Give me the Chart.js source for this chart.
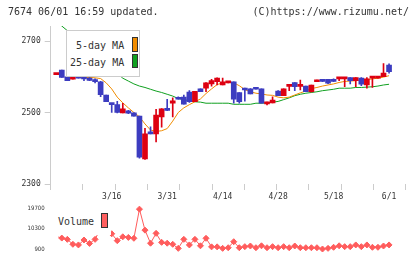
<!DOCTYPE html>
<html><head><meta charset="utf-8">
<script src="https://cdn.jsdelivr.net/npm/chart.js@4/dist/chart.umd.min.js"></script>
<style>
html,body{margin:0;padding:0;background:#fff;}
#wrap{position:relative;width:420px;height:259px;overflow:hidden;font-family:'DejaVu Sans Mono',monospace;color:#333;}
canvas{position:absolute;left:0;top:0;}
.t{position:absolute;font-size:10px;line-height:12px;white-space:pre;}
.box{position:absolute;background:#fff;}
.sw{position:absolute;border:1px solid #333;}
</style></head><body>
<div id="wrap">
<canvas id="main" width="420" height="259" style="width:420px;height:259px"></canvas>
<canvas id="vol" width="420" height="259" style="width:420px;height:259px"></canvas>
<div class="t" style="left:8px;top:6px">7674 06/01 16:59 updated.</div>
<div class="t" style="right:11px;top:6px">(C)https://www.rizumu.net/</div>
<div class="box" style="left:66px;top:30px;width:72px;height:45px;border:1px solid #ccc;"></div>
<div class="t" style="left:76px;top:40px">5-day MA</div>
<div class="sw" style="left:132px;top:37px;width:4px;height:13px;background:#f08c00;"></div>
<div class="t" style="left:70px;top:57px">25-day MA</div>
<div class="sw" style="left:132px;top:54px;width:4px;height:12px;background:#10a020;"></div>
<div class="box" style="left:54px;top:210px;width:57px;height:25px;"></div>
<div class="t" style="left:58px;top:216px">Volume</div>
<div class="sw" style="left:101px;top:213px;width:5px;height:13px;background:#ff6060;"></div>
</div>
<script>
const days = ['3/2','3/3','3/4','3/5','3/6','3/9','3/10','3/11','3/12','3/13',
'3/16','3/17','3/18','3/19','3/23','3/24','3/25','3/26','3/27','3/30',
'3/31','4/1','4/2','4/3','4/6','4/7','4/8','4/9','4/10','4/13',
'4/14','4/15','4/16','4/17','4/20','4/21','4/22','4/23','4/24','4/27',
'4/28','4/30','5/1','5/7','5/8','5/11','5/12','5/13','5/14','5/15',
'5/18','5/19','5/20','5/21','5/22','5/25','5/26','5/27','5/28','5/29','6/1'];
const tickLabels = ['3/16','3/31','4/14','4/28','5/18','6/1'];
const yTicks = [2300, 2500, 2700];
const volTicks = [900, 10300, 19700];

const opens = [2606,2619,2600,2593,2603,2601,2596,2592,2586,2549,
2523,2522,2499,2505,2499,2490,2370,2441,2440,2488,
2510,2526,2541,2543,2557,2530,2566,2568,2580,2586,
2577,2583,2586,2556,2568,2566,2566,2566,2524,2527,
2560,2547,2573,2584,2573,2574,2558,2586,2593,2593,
2591,2594,2594,2598,2589,2596,2577,2596,2596,2600,2633];
const highs = [2607,2619,2600,2610,2612,2607,2598,2594,2587,2549,
2523,2531,2526,2506,2499,2490,2456,2460,2509,2511,
2537,2541,2544,2549,2561,2559,2566,2584,2593,2597,
2596,2586,2586,2556,2568,2567,2567,2566,2529,2544,
2561,2566,2576,2584,2591,2574,2577,2591,2593,2593,
2594,2598,2598,2598,2598,2598,2598,2598,2598,2637,2636];
const lows = [2606,2598,2589,2593,2596,2589,2589,2583,2544,2530,
2500,2499,2499,2497,2490,2372,2369,2440,2418,2459,
2505,2488,2537,2523,2528,2530,2558,2558,2574,2577,
2577,2583,2526,2526,2532,2552,2565,2526,2521,2527,
2547,2547,2561,2561,2563,2558,2557,2586,2586,2581,
2586,2589,2572,2580,2572,2575,2568,2570,2596,2600,2610];
const closes = [2607,2598,2589,2610,2596,2594,2590,2586,2550,2530,
2522,2500,2510,2498,2490,2375,2440,2440,2493,2510,
2506,2533,2537,2523,2530,2559,2558,2583,2589,2596,
2586,2585,2537,2530,2563,2552,2565,2526,2529,2535,
2547,2566,2575,2572,2575,2558,2577,2591,2587,2582,
2587,2598,2598,2589,2598,2579,2594,2598,2598,2610,2614];
const ma5 = [null,null,null,null,2599,2598,2598,2597,2595,2583,
2566,2543,2527,2513,2500,2488,2468,2451,2447,2449,
2455,2476,2500,2513,2522,2530,2538,2553,2566,2578,
2583,2586,2583,2575,2564,2558,2554,2552,2549,2548,
2543,2541,2543,2549,2555,2560,2567,2570,2574,2577,
2580,2584,2587,2588,2589,2591,2592,2594,2596,2599,2603];
const ma25 = [2755,2742,2729,2717,2705,2693,2680,2667,2654,2640,
2625,2610,2596,2588,2580,2574,2570,2565,2560,2556,
2551,2546,2539,2536,2533,2530,2529,2526,2526,2526,
2526,2526,2523,2523,2523,2523,2526,2526,2527,2529,
2531,2536,2541,2547,2551,2554,2556,2558,2561,2563,
2565,2568,2568,2568,2570,2570,2571,2572,2574,2577,2579];
const volumes = [6300,6000,5400,3100,2800,5100,3500,5400,10500,9500,
8000,4800,6600,6300,5900,19500,9700,3600,8200,4000,
3600,3100,1200,5400,2800,5400,2400,5900,1900,1900,
1200,1500,4300,1500,2000,2300,1500,2400,1500,2000,
1500,2000,1500,2300,1500,1500,1500,1500,900,1200,
1700,2400,2000,2000,2800,2000,2800,1700,1700,2300,2800];

const RED = '#dd0011', BLUE = '#3c3cc0', ORANGE = '#f08c00', GREEN = '#10a020', VOL = '#ff5c5c';
const X_MIN = -1, X_MAX = 63;
const idx = days.map((d, i) => i);
const tickIdx = tickLabels.map(l => days.indexOf(l));
const candleColor = i => closes[i] >= opens[i] ? RED : BLUE;
const FONT_AX = {family: 'DejaVu Sans Mono', size: 8};

new Chart(document.getElementById('main'), {
  type: 'bar',
  data: {datasets: [
    {type: 'line', label: '5-day MA', data: idx.map(i => ({x: i, y: ma5[i]})), borderColor: ORANGE, borderWidth: 1, pointRadius: 0, order: 3},
    {type: 'line', label: '25-day MA', data: idx.map(i => ({x: i, y: ma25[i]})), borderColor: GREEN, borderWidth: 1, pointRadius: 0, order: 3},
    {label: 'wick', data: idx.map(i => ({x: i, y: [lows[i], highs[i]]})), backgroundColor: c => candleColor(c.dataIndex), barThickness: 1, grouped: false, minBarLength: 1, order: 2},
    {label: 'body', data: idx.map(i => ({x: i, y: [opens[i], closes[i]]})), backgroundColor: c => candleColor(c.dataIndex), barThickness: 5, grouped: false, minBarLength: 2, order: 1}
  ]},
  options: {
    responsive: false, animation: false, events: [],
    layout: {padding: {left: 0, right: 14.3, top: 26, bottom: 55}},
    plugins: {legend: {display: false}, tooltip: {enabled: false}},
    scales: {
      x: {
        type: 'linear', min: X_MIN, max: X_MAX, offset: false, position: 'bottom',
        afterBuildTicks: s => {
          const t = [];
          for (let k = 0; k <= 11; k++) t.push({value: X_MIN + k * (X_MAX - X_MIN) / 11});
          tickIdx.forEach(v => t.push({value: v}));
          t.sort((a, b) => a.value - b.value);
          s.ticks = t;
        },
        afterFit: s => { s.height = 20; },
        ticks: {autoSkip: false, maxRotation: 0, padding: 2, font: FONT_AX, color: '#333',
          callback: v => { const k = tickIdx.indexOf(v); return k >= 0 ? tickLabels[k] : ''; }},
        grid: {drawOnChartArea: false, drawTicks: true, tickLength: 6, offset: false,
          tickColor: c => (c.tick && tickIdx.includes(c.tick.value)) ? 'rgba(0,0,0,0)' : '#cccccc'},
        border: {display: false}
      },
      y: {
        min: 2300, max: 2742,
        afterBuildTicks: s => { s.ticks = yTicks.map(v => ({value: v})); },
        afterFit: s => { s.width = 50.7; },
        ticks: {font: FONT_AX, color: '#333', padding: 4, callback: v => String(v)},
        grid: {drawOnChartArea: false, tickLength: 6, color: '#cccccc'},
        border: {display: true, color: '#cccccc'}
      }
    }
  }
});

new Chart(document.getElementById('vol'), {
  type: 'line',
  data: {datasets: [{
    label: 'Volume', data: idx.map(i => ({x: i, y: volumes[i]})),
    borderColor: VOL, backgroundColor: VOL, borderWidth: 1,
    pointStyle: 'rectRot', pointRadius: 3, pointBorderWidth: 1,
    pointBackgroundColor: VOL, pointBorderColor: VOL,
    clip: {left: -8, top: 8, right: 8, bottom: 8}
  }]},
  options: {
    responsive: false, animation: false, events: [],
    layout: {padding: {left: 0, right: 14.3, top: 208.7, bottom: 10}},
    plugins: {legend: {display: false}, tooltip: {enabled: false}},
    scales: {
      x: {type: 'linear', min: X_MIN, max: X_MAX, display: false},
      y: {
        min: 900, max: 19700,
        afterBuildTicks: s => { s.ticks = volTicks.map(v => ({value: v})); },
        afterFit: s => { s.width = 50.7; },
        ticks: {font: {family: 'DejaVu Sans Condensed, DejaVu Sans', size: 6}, color: '#333', padding: 6, callback: v => String(v)},
        grid: {display: false, drawTicks: false},
        border: {display: false}
      }
    }
  }
});
</script>
</body></html>
